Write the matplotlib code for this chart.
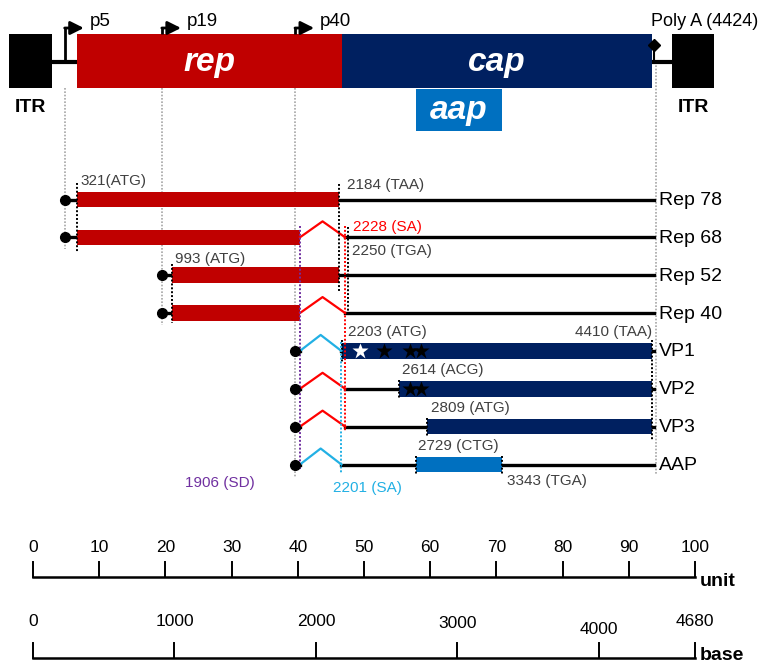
import matplotlib
matplotlib.use("Agg")
import matplotlib.pyplot as plt

plt.rcParams['font.family'] = ['Liberation Sans', 'DejaVu Sans']

# ---------------- genome features (nucleotide positions) ----------------
ITR_LEFT = (-160, 145)
ITR_RIGHT = (4555, 4850)
REP_GENE = (321, 2203)
CAP_GENE = (2203, 4410)
AAP_GENE = (2729, 3343)
POLY_A = 4424
GENOME_LEN = 4680

promoter_names = ['p5', 'p19', 'p40']
promoter_pos = [234, 925, 1872]

SD = 1906          # splice donor
SA_MAJOR = 2201    # major splice acceptor
SA_MINOR = 2228    # minor splice acceptor

# ---------------- transcripts ----------------
transcripts = ['Rep 78', 'Rep 68', 'Rep 52', 'Rep 40', 'VP1', 'VP2', 'VP3', 'AAP']
tx_promoter = [0, 0, 1, 1, 2, 2, 2, 2]
tx_orf_start = [321, 321, 993, 993, 2203, 2614, 2809, 2729]
tx_orf_end = [2184, 2250, 2184, 2250, 4410, 4410, 4410, 3343]
tx_acceptor = [None, SA_MINOR, None, SA_MINOR, SA_MAJOR, SA_MINOR, SA_MINOR, SA_MAJOR]
tx_kind = ['rep', 'rep', 'rep', 'rep', 'cap', 'cap', 'cap', 'aap']

# motif stars on VP1 / VP2 (white = PLA2 region, black = basic regions)
star_rows = [4, 4, 4, 4, 5, 5]
star_pos = [2333, 2504, 2689, 2767, 2689, 2767]
star_white = [True, False, False, False, False, False]

# unit / base scale bars
unit_ticks = [0, 10, 20, 30, 40, 50, 60, 70, 80, 90, 100]
base_ticks = [0, 1000, 2000, 3000, 4000, 4680]

# ---------------- colours ----------------
C_REP = '#C00000'
C_CAP = '#002060'
C_AAP = '#0070C0'
C_MINOR = '#FF0000'
C_MAJOR = '#22B0E4'
C_SD = '#7030A0'
C_TXT = '#404040'
C_GUIDE = '#A6A6A6'
kind_color = {'rep': C_REP, 'cap': C_CAP, 'aap': C_AAP}

# ---------------- layout (vertical units = pixels from top) ----------------
GENOME_Y = 62
BOX_TOP, BOX_BOT = 34, 88
AAP_TOP, AAP_BOT = 89, 131
ARROW_Y = 28
ROW0, PITCH = 199.5, 37.86
BAR_H = 15.5
RISE = 16
PX = 7.11           # nucleotides per horizontal pixel in the map


def row_y(i):
    return ROW0 + i * PITCH


fig = plt.figure(figsize=(7.68, 6.64), dpi=100)
ax = fig.add_axes([0, 0, 1, 1])
ax.set_xlim(-227, 5235)
ax.set_ylim(664, 0)
ax.axis('off')

dotted = (0, (1, 1))

# ---- genome map ----
ax.plot([ITR_LEFT[1], REP_GENE[0]], [GENOME_Y, GENOME_Y], color='k', lw=3, zorder=1)
ax.plot([CAP_GENE[1], ITR_RIGHT[0]], [GENOME_Y, GENOME_Y], color='k', lw=3, zorder=1)
for (a, b) in (ITR_LEFT, ITR_RIGHT):
    ax.barh((BOX_TOP + BOX_BOT) / 2, b - a, left=a, height=BOX_BOT - BOX_TOP,
            color='k', zorder=2)
    ax.text((a + b) / 2, 108, 'ITR', ha='center', va='center',
            fontsize=14, fontweight='bold')
ax.barh((BOX_TOP + BOX_BOT) / 2, REP_GENE[1] - REP_GENE[0], left=REP_GENE[0],
        height=BOX_BOT - BOX_TOP, color=C_REP, zorder=2)
ax.barh((BOX_TOP + BOX_BOT) / 2, CAP_GENE[1] - CAP_GENE[0], left=CAP_GENE[0],
        height=BOX_BOT - BOX_TOP, color=C_CAP, zorder=2)
ax.barh((AAP_TOP + AAP_BOT) / 2, AAP_GENE[1] - AAP_GENE[0], left=AAP_GENE[0],
        height=AAP_BOT - AAP_TOP, color=C_AAP, zorder=2)
for name, (a, b), yc in (('rep', REP_GENE, GENOME_Y), ('cap', CAP_GENE, GENOME_Y),
                         ('aap', AAP_GENE, (AAP_TOP + AAP_BOT) / 2)):
    ax.text((a + b) / 2, yc, name, ha='center', va='center', color='white',
            fontsize=24, fontweight='bold', fontstyle='italic', zorder=3)

# promoters
for i, (name, p) in enumerate(zip(promoter_names, promoter_pos)):
    base = GENOME_Y if i == 0 else BOX_TOP
    ax.plot([p, p], [base, ARROW_Y], color='k', lw=2, zorder=3,
            solid_capstyle='butt')
    ax.annotate('', xy=(p + 19 * PX, ARROW_Y), xytext=(p - 1, ARROW_Y),
                arrowprops=dict(arrowstyle='-|>', color='k', lw=2,
                                mutation_scale=20, shrinkA=0, shrinkB=0))
    ax.text(p + 25 * PX, 21, name, ha='left', va='center', fontsize=13.5)

# poly A signal
ax.plot([POLY_A, POLY_A], [GENOME_Y, 46], color='k', lw=1.5)
ax.plot(POLY_A, 45, marker='D', ms=6, color='k')
ax.text(POLY_A - 20, 22, 'Poly A (4424)', ha='left', va='center', fontsize=13)

# grey guide lines from promoters / poly A
last_row = [max(r for r, p in enumerate(tx_promoter) if p == k) for k in range(3)]
for k, p in enumerate(promoter_pos):
    ax.plot([p, p], [BOX_BOT, row_y(last_row[k]) + 12], color=C_GUIDE,
            lw=1.2, ls=dotted, zorder=0)
ax.plot([POLY_A + 15, POLY_A + 15], [GENOME_Y, row_y(7) + 10], color=C_GUIDE,
        lw=1.2, ls=dotted, zorder=0)

# ---- transcripts ----
for i, name in enumerate(transcripts):
    y = row_y(i)
    p = promoter_pos[tx_promoter[i]]
    col = kind_color[tx_kind[i]]
    sa = tx_acceptor[i]
    s, e = tx_orf_start[i], tx_orf_end[i]
    ax.plot(p, y, marker='o', ms=7, color='k', zorder=5)
    if sa is None:
        ax.plot([p, s], [y, y], color='k', lw=2.4, zorder=1)
        ax.barh(y, e - s, left=s, height=BAR_H, color=col, zorder=3)
        ax.plot([e, POLY_A], [y, y], color='k', lw=2.4, zorder=1)
    else:
        ic = C_MINOR if sa == SA_MINOR else C_MAJOR
        if s < SD:
            ax.plot([p, s], [y, y], color='k', lw=2.4, zorder=1)
            ax.barh(y, SD - s, left=s, height=BAR_H, color=col, zorder=3)
            ax.plot([sa, POLY_A], [y, y], color='k', lw=2.4, zorder=1)
        else:
            ax.plot([p, SD], [y, y], color='k', lw=2.4, zorder=1)
            ax.plot([sa, POLY_A], [y, y], color='k', lw=2.4, zorder=1)
            ax.barh(y, e - s, left=s, height=BAR_H, color=col, zorder=3)
        ax.plot([SD, (SD + sa) / 2, sa], [y, y - RISE, y], color=ic, lw=1.6,
                zorder=4)
    ax.text(POLY_A + 35, y + 1, name, ha='left', va='center', fontsize=14)

for r, x, w in zip(star_rows, star_pos, star_white):
    ax.plot(x, row_y(r), marker='*', ms=12, color='white' if w else 'black',
            mec='none', zorder=6)

# ---- boundary markers ----
markers = [  # position, y from, y to, colour
    (321, row_y(0) - 17, row_y(1) + 15, 'k'),
    (993, row_y(2) - 11, row_y(3) + 10, 'k'),
    (2184, row_y(0) - 16, row_y(2) + 16, 'k'),
    (2250, row_y(1) - 10, row_y(3) + 3, 'k'),
    (2203, row_y(4) - 11, row_y(4) + 11, 'k'),
    (2614, row_y(5) - 9, row_y(5) + 9, 'k'),
    (2809, row_y(6) - 9, row_y(6) + 9, 'k'),
    (2729, row_y(7) - 9, row_y(7) + 9, 'k'),
    (3343, row_y(7) - 9, row_y(7) + 9, 'k'),
    (4410, row_y(4) - 11, row_y(6) + 13, 'k'),
    (SD, row_y(1) - 11, row_y(7) + 6, C_SD),
    (SA_MINOR, row_y(1) - 11, row_y(6) + 4, C_MINOR),
    (SA_MAJOR, row_y(4) - 9, row_y(7) + 8, C_MAJOR),
]
for x, y1, y2, c in markers:
    ax.plot([x, x], [y1, y2], color=c, lw=1.4, ls=dotted, zorder=4)

# ---- position labels ----
labels = [  # text, anchor, x offset (px), row, y offset (px), ha, colour
    ('321(ATG)', 321, 3, 0, -18.5, 'left', C_TXT),
    ('2184 (TAA)', 2184, 8, 0, -14.5, 'left', C_TXT),
    ('2228 (SA)', SA_MINOR, 8, 1, -10.5, 'left', C_MINOR),
    ('2250 (TGA)', 2250, 4, 1, 13.5, 'left', C_TXT),
    ('993 (ATG)', 993, 3.5, 2, -16, 'left', C_TXT),
    ('2203 (ATG)', 2203, 6, 4, -19, 'left', C_TXT),
    ('4410 (TAA)', 4410, 0, 4, -19, 'right', C_TXT),
    ('2614 (ACG)', 2614, 3, 5, -19, 'left', C_TXT),
    ('2809 (ATG)', 2809, 4, 6, -19, 'left', C_TXT),
    ('2729 (CTG)', 2729, 2.5, 7, -18.5, 'left', C_TXT),
    ('3343 (TGA)', 3343, 5, 7, 16.5, 'left', C_TXT),
    ('1906 (SD)', SD, -45, 7, 18.5, 'right', C_SD),
    ('2201 (SA)', SA_MAJOR, 26, 7, 23.5, 'center', C_MAJOR),
]
for t, a, dx, r, dy, ha, c in labels:
    ax.text(a + dx * PX, row_y(r) + dy, t, ha=ha, va='center', fontsize=11,
            color=c)

# ---- scale bars ----
sx = fig.add_axes([0, 0, 1, 1])
sx.set_xlim(-233.3, 5196)
sx.set_ylim(664, 0)
sx.axis('off')
UNIT_BP = GENOME_LEN / 100

UNIT_Y, BASE_Y, TICK = 577, 658, 15
sx.plot([0, GENOME_LEN], [UNIT_Y, UNIT_Y], color='k', lw=1.8)
for u in unit_ticks:
    sx.plot([u * UNIT_BP] * 2, [UNIT_Y, UNIT_Y - TICK], color='k', lw=1.4)
    sx.text(u * UNIT_BP, 547, str(u), ha='center', va='center', fontsize=12.5)
sx.text(GENOME_LEN + 30, 581, 'unit', ha='left', va='center', fontsize=14,
        fontweight='bold')

base_label_dy = [0, 0, 0, 2, 8, 0]
sx.plot([0, GENOME_LEN], [BASE_Y, BASE_Y], color='k', lw=1.8)
for b, dy in zip(base_ticks, base_label_dy):
    sx.plot([b, b], [BASE_Y, BASE_Y - TICK], color='k', lw=1.4)
    sx.text(b, 621 + dy, str(b), ha='center', va='center', fontsize=12.5)
sx.text(GENOME_LEN + 30, 655, 'base', ha='left', va='center', fontsize=14,
        fontweight='bold')

fig.savefig('out.png', dpi=100)
